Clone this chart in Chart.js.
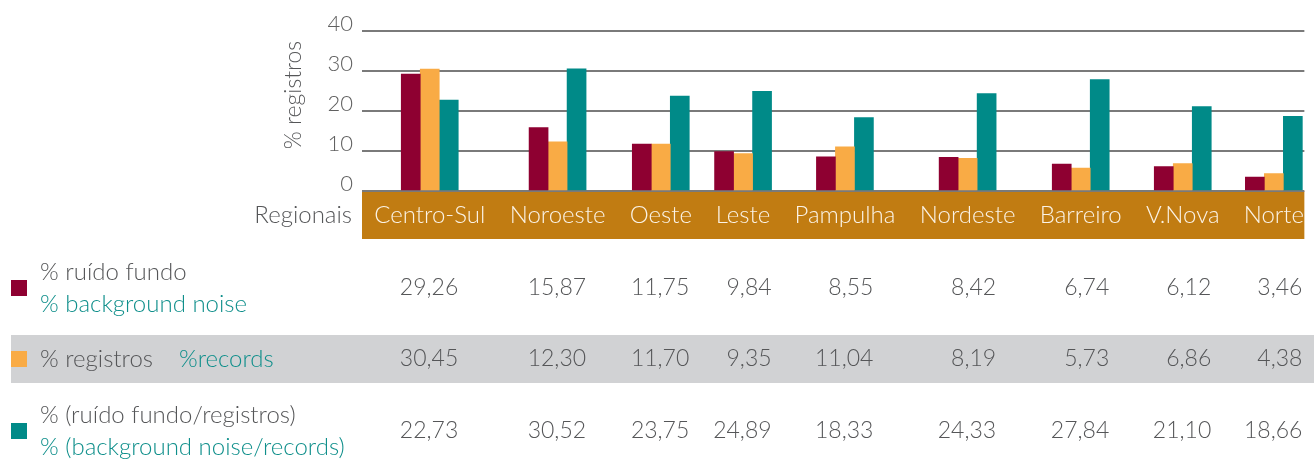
<!DOCTYPE html>
<html>
<head>
<meta charset="utf-8">
<script src="https://cdn.jsdelivr.net/npm/chart.js@4/dist/chart.umd.min.js"></script>
<style>
  html, body { margin: 0; padding: 0; background: #ffffff; }
  #wrap { width: 1314px; height: 459px; position: relative; }
</style>
</head>
<body>
<div id="wrap"><canvas id="regChart"></canvas></div>
<script>
// Regions (x categories) and the three series, in %
const categories = ['Centro-Sul', 'Noroeste', 'Oeste', 'Leste', 'Pampulha', 'Nordeste', 'Barreiro', 'V.Nova', 'Norte'];
const noiseShare = [29.26, 15.87, 11.75, 9.84, 8.55, 8.42, 6.74, 6.12, 3.46];
const recordShare = [30.45, 12.30, 11.70, 9.35, 11.04, 8.19, 5.73, 6.86, 4.38];
const noisePerRecord = [22.73, 30.52, 23.75, 24.89, 18.33, 24.33, 27.84, 21.10, 18.66];
const yTicks = [0, 10, 20, 30, 40];

const FONT = 'Lato';
const WEIGHT = 300;
const GREY_TEXT = '#555658';
const TEAL_TEXT = '#0f8f8b';
const colors = { noise: '#8e0031', records: '#f9ab45', ratio: '#008a88' };
const BAR_W = 19;
const GAP = 23;

const font = size => WEIGHT + ' ' + size + 'px ' + FONT;

// each region gets a slot as wide as its label plus a gap, like the original layout
const mctx = document.createElement('canvas').getContext('2d');
mctx.font = font(24);
let acc = 0;
const centers = categories.map(c => {
    const w = mctx.measureText(c).width + GAP;
    const mid = acc + w / 2;
    acc += w;
    return mid;
});
// the last slot ends right after its label
const xMax = acc - GAP / 2;

const toPoints = vals => vals.map((v, i) => ({ x: centers[i], y: v }));
const fmt = v => v.toFixed(2).replace('.', ',');

// table + extra labels under the chart
const tablePlugin = {
    id: 'tablePlugin',
    afterDraw(chart) {
        const { ctx, chartArea, scales } = chart;
        const x = scales.x;
        ctx.save();

        // "Regionais" next to the orange band
        ctx.fillStyle = GREY_TEXT;
        ctx.font = font(24);
        ctx.textAlign = 'right';
        ctx.textBaseline = 'middle';
        ctx.fillText('Regionais', chartArea.left - 10, (x.top + x.bottom) / 2);

        // y title
        ctx.save();
        ctx.translate(294, chartArea.top + 64);
        ctx.rotate(-Math.PI / 2);
        ctx.textAlign = 'center';
        ctx.font = font(23);
        ctx.fillText('% registros', 0, 0);
        ctx.restore();

        // grey band behind the second row
        ctx.fillStyle = '#d1d2d4';
        ctx.fillRect(11, 335, chart.width - 11, 48);

        const rows = [
            { y: 288, color: colors.noise, vals: noiseShare,
              lines: [[{ t: '% ruído fundo', c: GREY_TEXT }], [{ t: '% background noise', c: TEAL_TEXT }]] },
            { y: 359, color: colors.records, vals: recordShare,
              lines: [[{ t: '% registros', c: GREY_TEXT }, { t: '%records', c: TEAL_TEXT, gap: 26 }]] },
            { y: 431, color: colors.ratio, vals: noisePerRecord,
              lines: [[{ t: '% (ruído fundo/registros)', c: GREY_TEXT }], [{ t: '% (background noise/records)', c: TEAL_TEXT }]] }
        ];

        rows.forEach(row => {
            ctx.fillStyle = row.color;
            ctx.fillRect(11, row.y - 8, 16, 16);

            ctx.font = font(24);
            ctx.textAlign = 'left';
            const n = row.lines.length;
            row.lines.forEach((parts, li) => {
                const ly = n === 1 ? row.y : row.y + (li === 0 ? -16 : 16);
                let lx = 40;
                parts.forEach(p => {
                    lx += p.gap || 0;
                    ctx.fillStyle = p.c;
                    ctx.fillText(p.t, lx, ly);
                    lx += ctx.measureText(p.t).width;
                });
            });

            // values right-aligned with the right edge of each bar group
            ctx.font = font(23);
            ctx.textAlign = 'right';
            ctx.fillStyle = GREY_TEXT;
            row.vals.forEach((v, i) => {
                const px = x.getPixelForValue(centers[i]) + BAR_W * 1.5;
                ctx.fillText(fmt(v), px, row.y);
            });
        });
        ctx.restore();
    }
};

const ctx = document.getElementById('regChart').getContext('2d');
new Chart(ctx, {
    type: 'bar',
    data: {
        datasets: [
            { label: '% ruído fundo', data: toPoints(noiseShare), backgroundColor: colors.noise },
            { label: '% registros', data: toPoints(recordShare), backgroundColor: colors.records },
            { label: '% (ruído fundo/registros)', data: toPoints(noisePerRecord), backgroundColor: colors.ratio }
        ]
    },
    options: {
        responsive: true,
        maintainAspectRatio: false,
        animation: false,
        barThickness: BAR_W,
        layout: { padding: { top: 31, left: 0, right: 0, bottom: 220 } },
        plugins: { legend: { display: false }, tooltip: { enabled: false } },
        scales: {
            x: {
                type: 'linear',
                min: 0,
                max: xMax,
                offset: false,
                backgroundColor: '#c17c12',
                border: { display: false },
                grid: { display: false, drawTicks: false, offset: false },
                afterBuildTicks: s => { s.ticks = centers.map(v => ({ value: v })); },
                afterFit: s => { s.height = 48; },
                ticks: {
                    autoSkip: false,
                    maxRotation: 0,
                    padding: 10,
                    color: '#fbf3e6',
                    font: { family: FONT, size: 24, weight: WEIGHT },
                    callback: (v, i) => categories[i]
                }
            },
            y: {
                min: 0,
                max: 40,
                afterBuildTicks: s => { s.ticks = yTicks.map(v => ({ value: v })); },
                afterFit: s => { s.width = 362; },
                border: { display: false },
                grid: { color: '#7a7a7a', lineWidth: 2, drawTicks: false },
                ticks: {
                    padding: 9,
                    labelOffset: -7,
                    color: '#606060',
                    font: { family: FONT, size: 22, weight: WEIGHT }
                }
            }
        }
    },
    plugins: [tablePlugin]
});
</script>
</body>
</html>
